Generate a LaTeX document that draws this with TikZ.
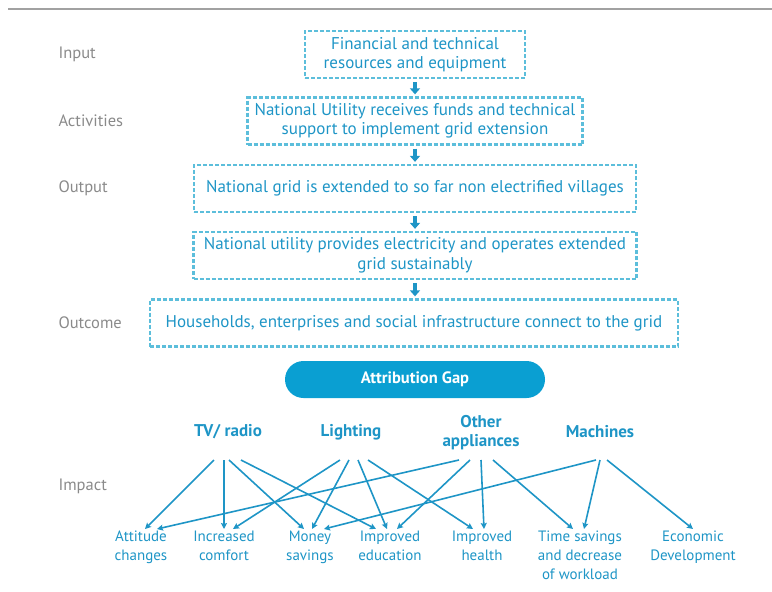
\documentclass[tikz,border=0pt]{standalone}
\usepackage{fontspec}
\setmainfont{PT Sans}
\usetikzlibrary{arrows.meta, calc}
\definecolor{azzurro}{HTML}{1E95C6}
\definecolor{celeste}{HTML}{5CBEDB}
\definecolor{grigio}{HTML}{8A8A8A}
\definecolor{pillola}{HTML}{0A9FD2}
\newcommand{\testo}{\fontsize{17}{19.5}\selectfont}
\newcommand{\testoP}{\fontsize{15}{19}\selectfont}
\newcommand{\testoB}{\fontsize{17}{19}\selectfont\bfseries}

\begin{document}
\begin{tikzpicture}[x=1pt, y=-1pt,
    scatola/.style={draw=celeste, line width=2.3pt, dash pattern=on 4pt off 2pt,
        text=azzurro, align=center, minimum height=47pt, inner sep=0pt, font=\testo},
    livello/.style={anchor=west, text=grigio, font=\fontsize{16.5}{19}\selectfont},
    categoria/.style={text=azzurro, align=center, inner sep=0pt, font=\testoB},
    effetto/.style={anchor=north, text=azzurro, align=center, inner sep=2pt, font=\testoP},
    freccia/.style={draw=azzurro, line width=3.2pt, -{Triangle[length=6pt, width=10pt]},
        shorten <=3pt, shorten >=2pt},
    legame/.style={draw=azzurro, line width=1.6pt, -{Stealth[length=6pt, width=6pt, inset=1pt]}}]
    \useasboundingbox (0,0) rectangle (772,592);
    % Riga in alto
    \draw[grigio!80, line width=2pt] (8,9) -- (772,9);
    % Livelli
    \node[livello] (lInput) at (55,54) {Input};
    \node[livello] (lAttiv) at (55,121) {Activities};
    \node[livello] (lOutput) at (55,188) {Output};
    \node[livello] (lOutcome) at (55,323) {Outcome};
    \node[livello] (lImpact) at (55,486) {Impact};
    % Catena dei risultati
    \node[scatola, minimum width=220pt] (risorse) at (415,54.5)
        {Financial and technical\\resources and equipment};
    \node[scatola, minimum width=335pt] (fondi) at (415,121)
        {National Utility receives funds and technical\\support to implement grid extension};
    \node[scatola, minimum width=442pt] (rete) at (415,188.5)
        {National grid is extended to so far non electrified villages};
    \node[scatola, minimum width=443pt] (gestione) at (415,255.5)
        {National utility provides electricity and operates extended\\grid sustainably};
    \node[scatola, minimum width=528pt] (allacci) at (414,323)
        {Households, enterprises and social infrastructure connect to the grid};
    \draw[freccia] (risorse.south) -- (fondi.north);
    \draw[freccia] (fondi.south) -- (rete.north);
    \draw[freccia] (rete.south) -- (gestione.north);
    \draw[freccia] (gestione.south) -- (allacci.north -| gestione.south);
    % Attribution gap
    \node[fill=pillola, rounded corners=18.5pt, minimum width=260pt, minimum height=37pt,
        text=white, font=\fontsize{16.5}{19}\selectfont\bfseries] (gap) at (415,379.5) {Attribution Gap};
    % Usi finali
    \node[categoria] (tv) at (228,432) {TV/ radio};
    \node[categoria] (luce) at (351,432) {Lighting};
    \node[categoria] (altri) at (481,433) {Other\\appliances};
    \node[categoria] (macchine) at (600,432) {Machines};
    % Impatti
    \node[effetto] (atteg) at (141,529) {Attitude\\changes};
    \node[effetto] (comfort) at (224,529) {Increased\\comfort};
    \node[effetto] (risparmio) at (310,529) {Money\\savings};
    \node[effetto] (istruz) at (390,529) {Improved\\education};
    \node[effetto] (salute) at (482,529) {Improved\\health};
    \node[effetto] (tempo) at (580,529) {Time savings\\and decrease\\of workload};
    \node[effetto] (econ) at (693,529) {Economic\\Development};
    % Legami TV/ radio
    \draw[legame] ($(tv.center)+(-14,28)$) -- ([xshift=4pt]atteg.north);
    \draw[legame] ($(tv.center)+(-4,28)$) -- ([xshift=0pt]comfort.north);
    \draw[legame] ($(tv.center)+(1,28)$) -- ([xshift=-6pt]risparmio.north);
    \draw[legame] ($(tv.center)+(13,28)$) -- ([xshift=-14pt]istruz.north);
    % Legami Lighting
    \draw[legame] ($(luce.center)+(-11,28)$) -- ([xshift=9pt]comfort.north);
    \draw[legame] ($(luce.center)+(-2,28)$) -- ([xshift=2pt]risparmio.north);
    \draw[legame] ($(luce.center)+(7,28)$) -- ([xshift=-3pt]istruz.north);
    \draw[legame] ($(luce.center)+(17,28)$) -- ([xshift=-9pt]salute.north);
    % Legami Other appliances
    \draw[legame] ($(altri.center)+(-22,27)$) -- ([xshift=16pt]atteg.north);
    \draw[legame] ($(altri.center)+(-11,27)$) -- ([xshift=7pt]istruz.north);
    \draw[legame] ($(altri.center)+(0,27)$) -- ([xshift=2pt]salute.north);
    \draw[legame] ($(altri.center)+(12,27)$) -- ([xshift=-7pt]tempo.north);
    % Legami Machines
    \draw[legame] ($(macchine.center)+(-4,28)$) -- ([xshift=14pt]risparmio.north);
    \draw[legame] ($(macchine.center)+(0,28)$) -- ([xshift=4pt]tempo.north);
    \draw[legame] ($(macchine.center)+(7,28)$) -- ([xshift=0pt]econ.north);
\end{tikzpicture}
\end{document}
